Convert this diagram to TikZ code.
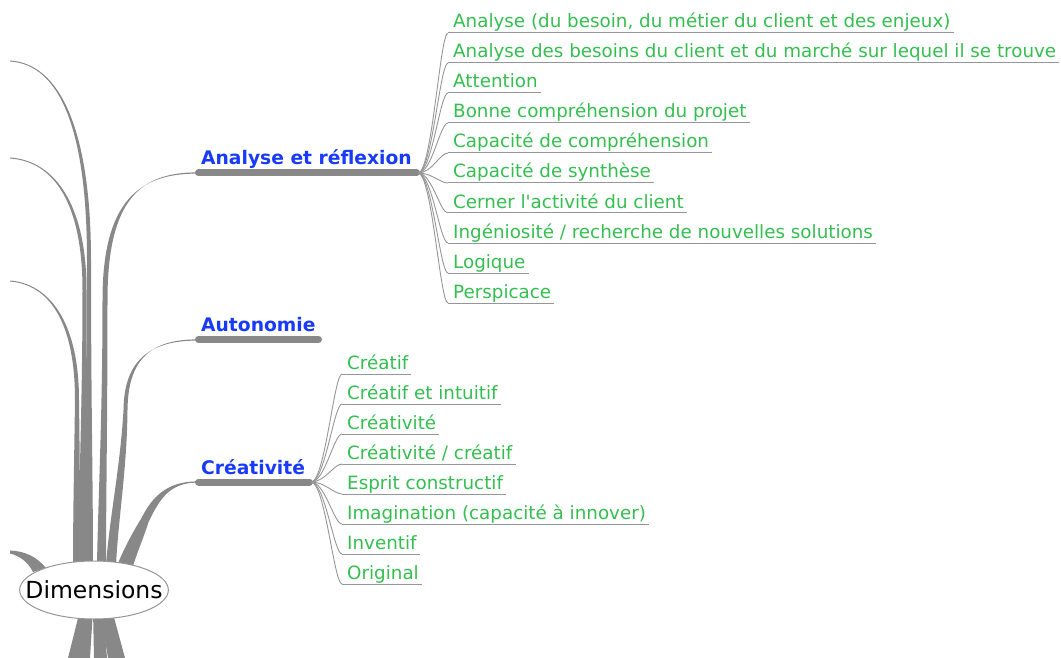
\documentclass[tikz,border=0pt]{standalone}
\usepackage{fontspec}
\setmainfont{DejaVu Sans}[Ligatures=TeXOff]
\usetikzlibrary{calc,shapes.geometric}
\definecolor{stem}{RGB}{136,136,136}
\definecolor{lnk}{RGB}{150,150,150}
\definecolor{bluet}{RGB}{24,58,250}
\definecolor{greent}{RGB}{52,190,80}
\begin{document}
\begin{tikzpicture}[x=1pt,y=-1pt,
  stemfill/.style={fill=stem, draw=none},
  barline/.style={draw=stem, line width=7pt, line cap=round},
  conn/.style={draw=lnk, line width=0.9pt},
  uline/.style={draw=lnk, line width=1pt},
  cat/.style={inner sep=0pt, anchor=base west, text=bluet, font=\fontsize{18.7}{22}\selectfont\bfseries},
  leaf/.style={inner sep=0pt, anchor=base west, text=greent, font=\fontsize{18.3}{22}\selectfont},
  dimnode/.style={ellipse, draw=lnk, fill=white, line width=1pt, minimum height=58pt, inner xsep=-16pt, inner ysep=0pt, font=\fontsize{23.5}{26}\selectfont},
]
\useasboundingbox (0,0) rectangle (1061,658);

% --- tapered branches (behind the central node)
% branch A (off-canvas top-left child)
\fill[stemfill] (10,60.5) .. controls (60,63.5) and (91,130) .. (91,260) .. controls (91,400) and (93,480) .. (93,566)
  -- (85,566) .. controls (85,480) and (87,400) .. (87,260) .. controls (87,130) and (60,64.5) .. (10,61.5) -- cycle;
% branch B
\fill[stemfill] (10,157.5) .. controls (55,160.5) and (86.5,205) .. (86.5,290) .. controls (87,400) and (87,480) .. (86,566)
  -- (78,566) .. controls (79,480) and (82.5,400) .. (82.5,290) .. controls (82.5,205) and (55,161.5) .. (10,158.5) -- cycle;
% branch C
\fill[stemfill] (10,280.5) .. controls (48,283.5) and (79,320) .. (79,400) .. controls (80,470) and (80,520) .. (80,566)
  -- (73,566) .. controls (73,520) and (74,470) .. (75,400) .. controls (75,320) and (48,284.5) .. (10,281.5) -- cycle;
% branch to Analyse et reflexion
\fill[stemfill] (197,172.4) .. controls (140,172.4) and (107.5,200) .. (107.5,300) .. controls (107.5,420) and (106,500) .. (106,566)
  -- (97,566) .. controls (98,500) and (102.5,420) .. (102.5,300) .. controls (102.5,200) and (140,173.6) .. (197,173.6) -- cycle;
% branch to Autonomie
\fill[stemfill] (197,339.4) .. controls (150,339.4) and (128,360) .. (127.5,410) .. controls (127,470) and (118,520) .. (116,566)
  -- (106,566) .. controls (109,520) and (120,470) .. (123.5,410) .. controls (124,360) and (150,340.6) .. (197,340.6) -- cycle;
% branch to Creativite
\fill[stemfill] (197,481.4) .. controls (166,481.4) and (151.4,498.2) .. (141.4,518.2) .. controls (134,530) and (123,550) .. (117,566)
  -- (133,566) .. controls (138,550) and (145,534) .. (148.6,521.8) .. controls (158.6,501.8) and (168,482.6) .. (197,482.6) -- cycle;
% branch to the left
\fill[stemfill] (10,550.5) .. controls (25,551) and (37,557) .. (46,568) -- (33,572) .. controls (28,562) and (20,556) .. (10,553.5) -- cycle;
% branches downwards
\fill[stemfill] (80,610) -- (93,610) -- (90,658) -- (68,658) -- cycle;
\fill[stemfill] (93,610) -- (103,610) -- (107,658) -- (94,658) -- cycle;
\fill[stemfill] (100,610) -- (112,610) -- (125,658) -- (108,658) -- cycle;

% --- central node
\node[dimnode] (dim) at (94,590) {Dimensions};

% --- category bars and labels
\node[cat] (ana) at (201,165) {Analyse et réflexion};
\node[cat] (aut) at (201,331.5) {Autonomie};
\node[cat] (cre) at (201,474) {Créativité};
\coordinate (anaL) at (198.5,173); \coordinate (anaR) at (416.5,173);
\coordinate (autL) at (198.5,339.5); \coordinate (autR) at (318.5,339.5);
\coordinate (creL) at (198.5,482); \coordinate (creR) at (309.5,482);
\draw[barline] (anaL) -- (anaR);
\draw[barline] (autL) -- (autR);
\draw[barline] (creL) -- (creR);
\coordinate (anaX) at (418,173);
\coordinate (creX) at (311,482);

% --- leaves of Analyse et reflexion
\foreach \t [count=\i] in {{Analyse (du besoin, du métier du client et des enjeux)},
  {Analyse des besoins du client et du marché sur lequel il se trouve},
  {Attention},{Bonne compréhension du projet},{Capacité de compréhension},
  {Capacité de synthèse},{Cerner l'activité du client},
  {Ingéniosité / recherche de nouvelles solutions},{Logique},{Perspicace}}{
  \pgfmathsetmacro\yy{28+30*(\i-1)}
  \node[leaf] (a\i) at (453,\yy) {\t};
  \coordinate (a\i s) at ($(a\i.base west)+(-5,5)$);
  \draw[uline] (a\i s) -- ($(a\i.base east)+(3,5)$);
  \draw[conn] (anaX) .. controls +(14,0) and +(-8,0) .. (a\i s);
}

% --- leaves of Creativite
\foreach \t [count=\i] in {{Créatif},{Créatif et intuitif},{Créativité},{Créativité / créatif},
  {Esprit constructif},{Imagination (capacité à innover)},{Inventif},{Original}}{
  \pgfmathsetmacro\yy{369+30*(\i-1)}
  \node[leaf] (c\i) at (347,\yy) {\t};
  \coordinate (c\i s) at ($(c\i.base west)+(-5,5)$);
  \draw[uline] (c\i s) -- ($(c\i.base east)+(3,5)$);
  \draw[conn] (creX) .. controls +(14,0) and +(-8,0) .. (c\i s);
}
\end{tikzpicture}
\end{document}
